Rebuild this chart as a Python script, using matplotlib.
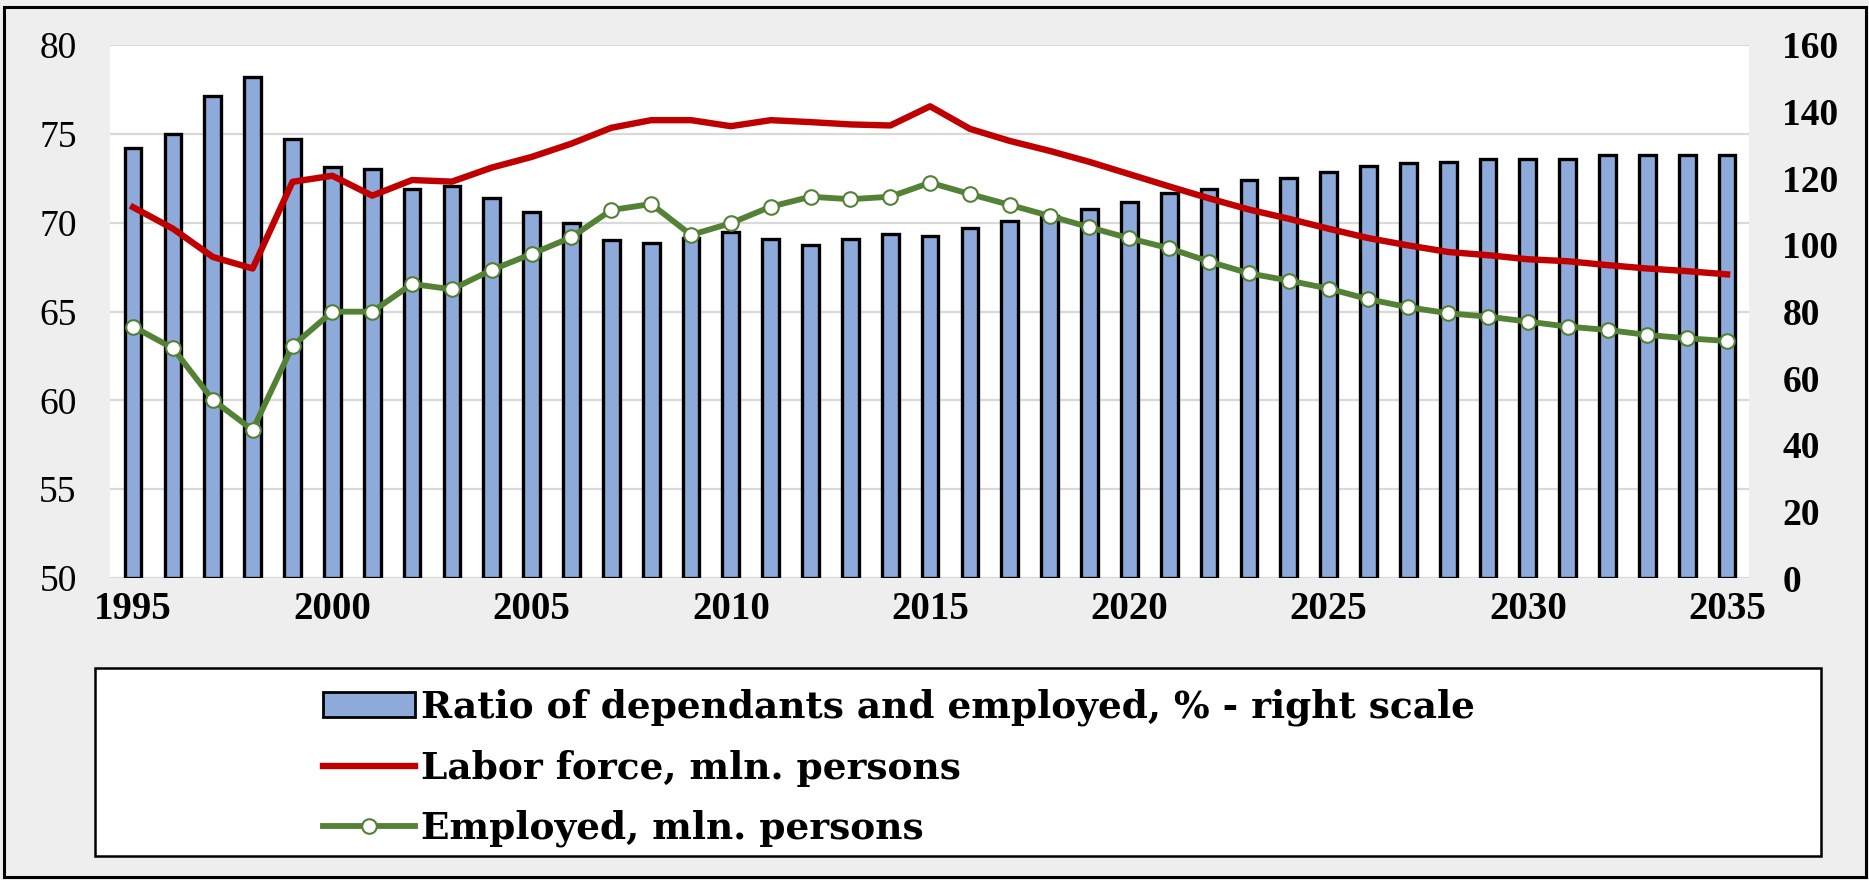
import numpy as np
import matplotlib
matplotlib.use('Agg')
import matplotlib.pyplot as plt
from matplotlib.patches import Rectangle
from matplotlib.lines import Line2D

years = np.arange(1995, 2036)
# ratio of dependants and employed, % (right scale)
ratio = [129.2, 133.3, 144.6, 150.4, 131.7, 123.5, 122.7, 116.8, 117.7, 114.0,
         109.8, 106.5, 101.5, 100.7, 102.0, 103.9, 101.9, 100.1, 101.9, 103.4,
         102.7, 105.0, 107.3, 108.6, 110.9, 113.0, 115.5, 116.9, 119.4, 120.2,
         122.0, 123.7, 124.5, 125.0, 125.9, 125.9, 125.9, 126.9, 126.9, 126.9,
         126.9]
# labor force, mln persons (left scale)
labor = [70.87, 69.66, 68.07, 67.42, 72.30, 72.64, 71.52, 72.40, 72.31, 73.10,
         73.70, 74.45, 75.34, 75.77, 75.77, 75.43, 75.77, 75.66, 75.53, 75.47,
         76.55, 75.28, 74.60, 74.04, 73.42, 72.73, 72.04, 71.37, 70.74, 70.22,
         69.66, 69.13, 68.72, 68.35, 68.17, 67.94, 67.83, 67.61, 67.42, 67.27,
         67.09]
# employed, mln persons (left scale)
employed = [64.15, 62.93, 60.02, 58.33, 63.06, 64.99, 64.99, 66.55, 66.25, 67.34,
            68.24, 69.18, 70.71, 71.05, 69.31, 69.97, 70.90, 71.46, 71.32, 71.46,
            72.25, 71.61, 71.00, 70.38, 69.74, 69.12, 68.56, 67.81, 67.15, 66.74,
            66.29, 65.69, 65.24, 64.90, 64.71, 64.43, 64.15, 63.96, 63.68, 63.49,
            63.34]

labels = ['Ratio of dependants and employed, % - right scale',
          'Labor force, mln. persons',
          'Employed, mln. persons']

W, H = 1869, 880
fig = plt.figure(figsize=(W / 100, H / 100), dpi=100, facecolor='#eeeeee')

def fx(px):
    return px / W

def fy(py):
    return 1 - py / H

# plot area 110..1749 x, 45..578 y
ax = fig.add_axes([fx(110), fy(578), fx(1749 - 110), (578 - 45) / H])
ax.set_facecolor('white')
ax.set_xlim(1994.42, 2035.55)
ax.set_ylim(50, 80)
ax.set_yticks(np.arange(50, 81, 5))
ax.grid(axis='y', color='#d9d9d9', lw=1.6)
ax.set_axisbelow(True)
ax.set_xticks(np.arange(1995, 2036, 5))
ax.tick_params(axis='both', length=0)
ax.tick_params(axis='x', pad=9)
ax.tick_params(axis='y', pad=24)
for lab in ax.get_xticklabels():
    lab.set_fontfamily('Liberation Serif')
    lab.set_fontweight('bold')
    lab.set_fontsize(28)
for lab in ax.get_yticklabels():
    lab.set_fontfamily('Liberation Serif')
    lab.set_fontsize(27)

ax2 = ax.twinx()
ax2.bar(years, ratio, width=0.42, color='#8eaadb', edgecolor='black', linewidth=2.4)
ax2.set_ylim(0, 160)
ax2.set_yticks(np.arange(0, 161, 20))
ax2.tick_params(axis='y', length=0, pad=24)
for lab in ax2.get_yticklabels():
    lab.set_fontfamily('Liberation Serif')
    lab.set_fontweight('bold')
    lab.set_fontsize(27)

ax3 = ax.twinx()
ax3.set_ylim(50, 80)
ax3.set_yticks([])
ax3.plot(years, labor, color='#c00000', lw=4.6)
ax3.plot(years, employed, color='#538135', lw=4.2, marker='o', markersize=10.5,
         markerfacecolor='white', markeredgecolor='#538135', markeredgewidth=1.5)

for a in (ax, ax2, ax3):
    for s in a.spines.values():
        s.set_visible(False)

# legend box
fig.patches.append(Rectangle((fx(95), fy(856)), fx(1821 - 95), (856 - 668) / H,
                             transform=fig.transFigure, facecolor='white',
                             edgecolor='black', lw=1.8, zorder=0))
# outer border
fig.patches.append(Rectangle((fx(4), fy(877)), fx(1866 - 4), (877 - 7) / H,
                             transform=fig.transFigure, facecolor='none',
                             edgecolor='black', lw=2.2, zorder=5))

handles = [Rectangle((0, 0), 1, 1, facecolor='#8eaadb', edgecolor='black', lw=2),
           Line2D([], [], color='#c00000', lw=4.6),
           Line2D([], [], color='#538135', lw=4.2, marker='o', markersize=10.5,
                  markerfacecolor='white', markeredgecolor='#538135', markeredgewidth=1.5)]
leg = fig.legend(handles, labels, loc='upper left', bbox_to_anchor=(fx(304), fy(670)),
                 frameon=False, borderpad=0, handlelength=2.45, handleheight=0.65,
                 handletextpad=0.16, labelspacing=0.62,
                 prop={'family': 'DejaVu Serif', 'weight': 'bold', 'size': 27})

fig.savefig('out.png', dpi=100, facecolor=fig.get_facecolor())
